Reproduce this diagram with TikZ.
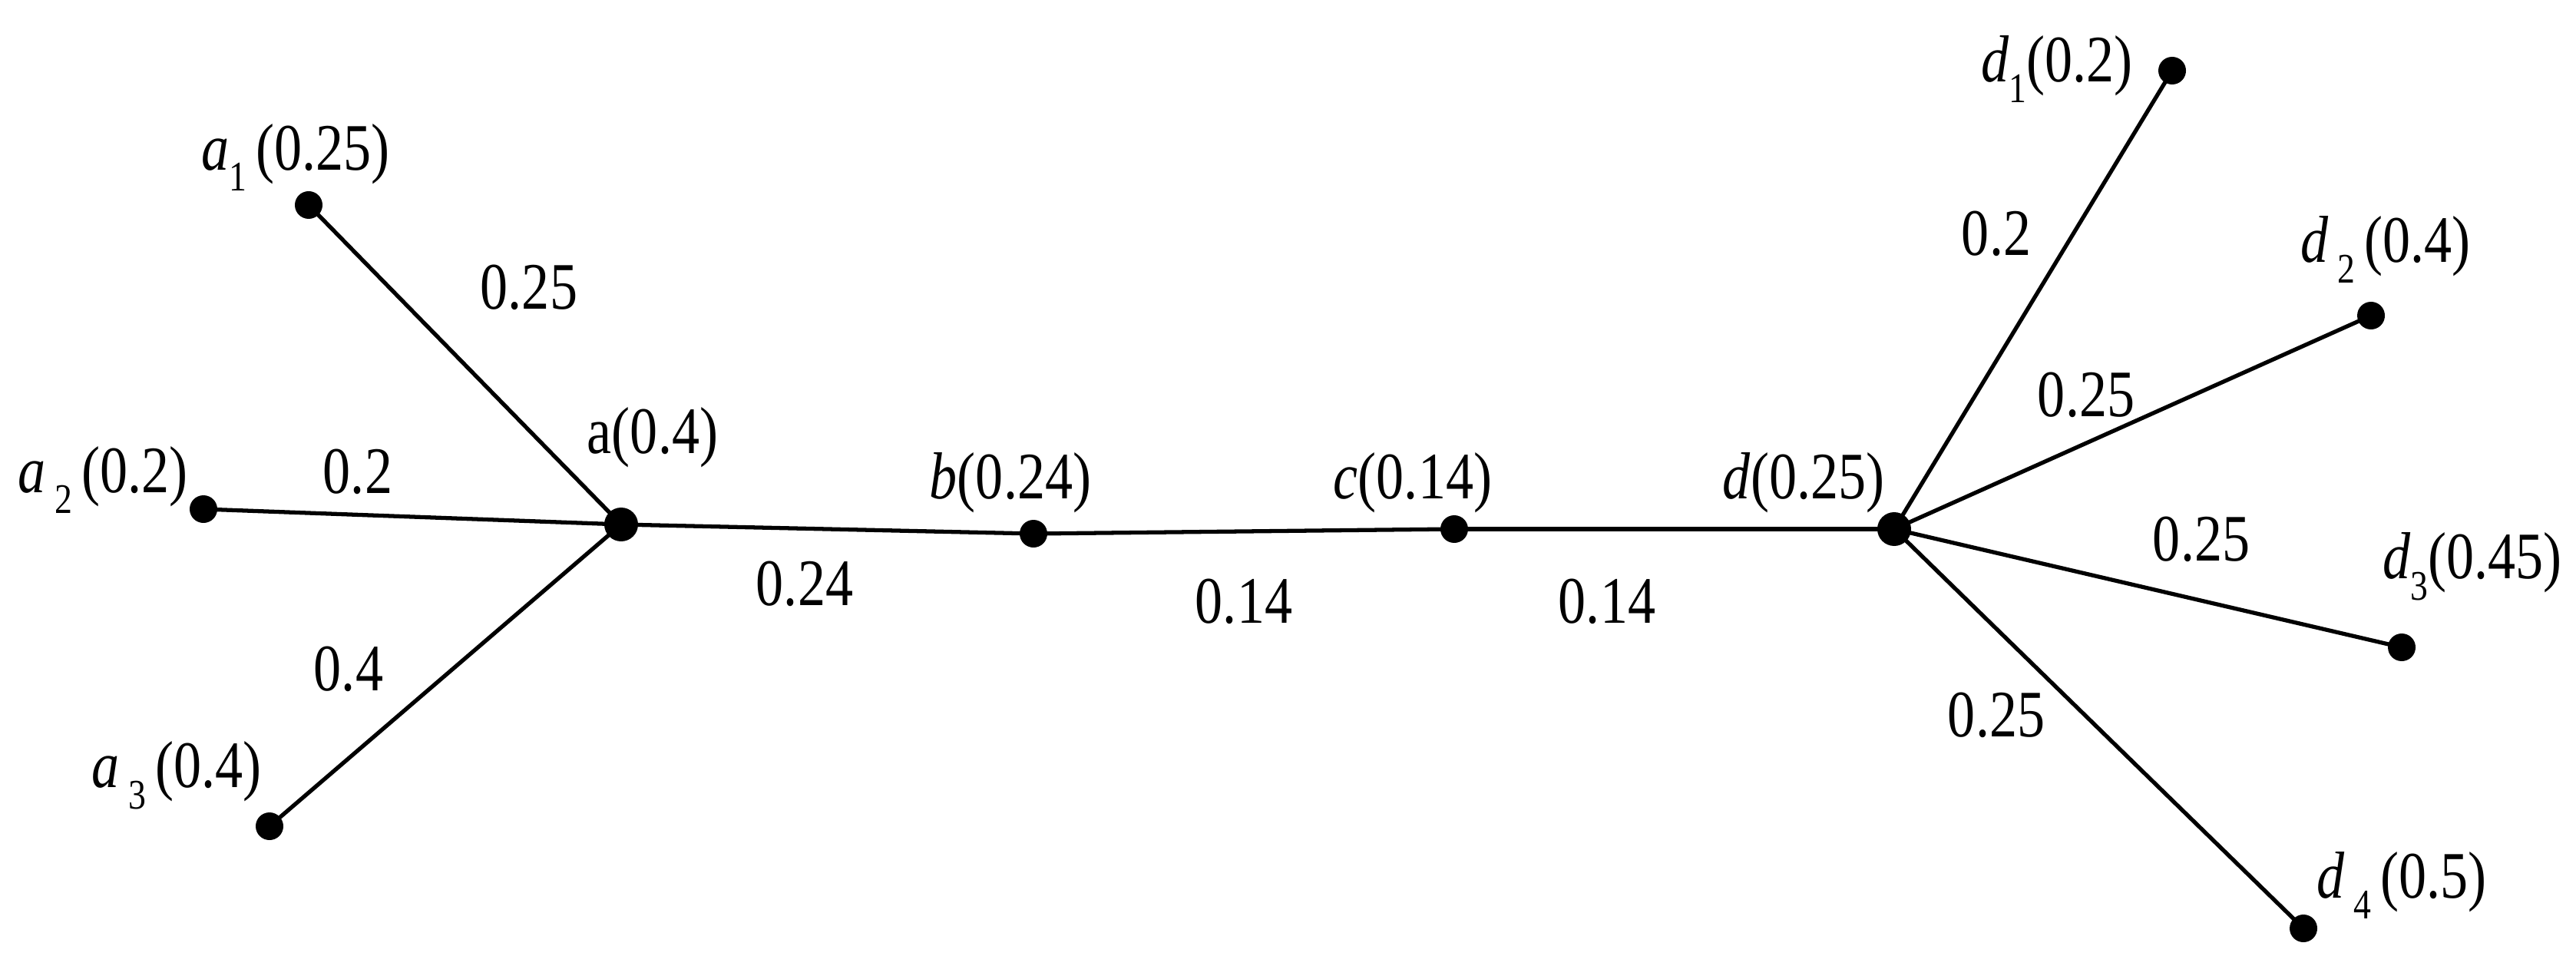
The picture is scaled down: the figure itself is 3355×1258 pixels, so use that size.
\documentclass[tikz,border=0pt]{standalone}
\usepackage{fontspec}
\setmainfont{Liberation Serif}
\newcommand{\sbs}[1]{\raisebox{-0.32em}{\fontsize{13}{14}\selectfont #1}}
\newlength{\px}\setlength{\px}{0.01cm}
\tikzset{
  dotsmall/.style={circle,fill=black,inner sep=0pt,minimum size=36\px},
  dotbig/.style={circle,fill=black,inner sep=0pt,minimum size=44\px},
  lbl/.style={inner sep=0pt,yscale=1.2,font=\fontsize{20.5}{24}\selectfont},
  edge/.style={line width=1.5pt},
}
\begin{document}
\begin{tikzpicture}[x=0.01cm,y=-0.01cm]
\useasboundingbox[fill=white] (0,0) rectangle (3355,1258);
% nodes
\node[dotsmall] (a1) at (402,267) {};
\node[dotsmall] (a2) at (265,663) {};
\node[dotsmall] (a3) at (351,1076) {};
\node[dotbig]   (a)  at (809,683) {};
\node[dotsmall] (b)  at (1346,695) {};
\node[dotsmall] (c)  at (1894,689) {};
\node[dotbig]   (d)  at (2467,689) {};
\node[dotsmall] (d1) at (2829,92) {};
\node[dotsmall] (d2) at (3088,411) {};
\node[dotsmall] (d3) at (3128,843) {};
\node[dotsmall] (d4) at (3000,1209) {};
% connectors
\draw[edge] (a1.center) -- (a.center);
\draw[edge] (a2.center) -- (a.center);
\draw[edge] (a3.center) -- (a.center);
\draw[edge] (a.center) -- (b.center);
\draw[edge] (b.center) -- (c.center);
\draw[edge,line width=1.8pt] (c.center) -- (d.center);
\draw[edge] (d.center) -- (d1.center);
\draw[edge] (d.center) -- (d2.center);
\draw[edge] (d.center) -- (d3.center);
\draw[edge] (d.center) -- (d4.center);
% vertex labels
\node[lbl] (la1) at (385,205) {\textit{a}\sbs{1}\,(0.25)};
\node[lbl] (la2) at (134,625) {\textit{a}\,\sbs{2}\,(0.2)};
\node[lbl] (la3) at (230,1010) {\textit{a}\,\sbs{3}\,(0.4)};
\node[lbl] (la)  at (850,570) {a(0.4)};
\node[lbl] (lb)  at (1316,629) {\textit{b}(0.24)};
\node[lbl] (lc)  at (1840,629) {\textit{c}(0.14)};
\node[lbl] (ld)  at (2349,629) {\textit{d}(0.25)};
\node[lbl] (ld1) at (2679,90) {\textit{d}\sbs{1}(0.2)};
\node[lbl] (ld2) at (3107,325) {\textit{d}\,\sbs{2}\,(0.4)};
\node[lbl] (ld3) at (3220,738) {\textit{d}\sbs{3}(0.45)};
\node[lbl] (ld4) at (3128,1153) {\textit{d}\,\sbs{4}\,(0.5)};
% edge labels
\node[lbl] (ea1) at (689,374) {0.25};
\node[lbl] (ea2) at (466,614) {0.2};
\node[lbl] (ea3) at (454,871) {0.4};
\node[lbl] (eab) at (1048,760) {0.24};
\node[lbl] (ebc) at (1620,783) {0.14};
\node[lbl] (ecd) at (2093,783) {0.14};
\node[lbl] (ed1) at (2600,304) {0.2};
\node[lbl] (ed2) at (2717,514) {0.25};
\node[lbl] (ed3) at (2867,702) {0.25};
\node[lbl] (ed4) at (2600,931) {0.25};
\end{tikzpicture}
\end{document}
